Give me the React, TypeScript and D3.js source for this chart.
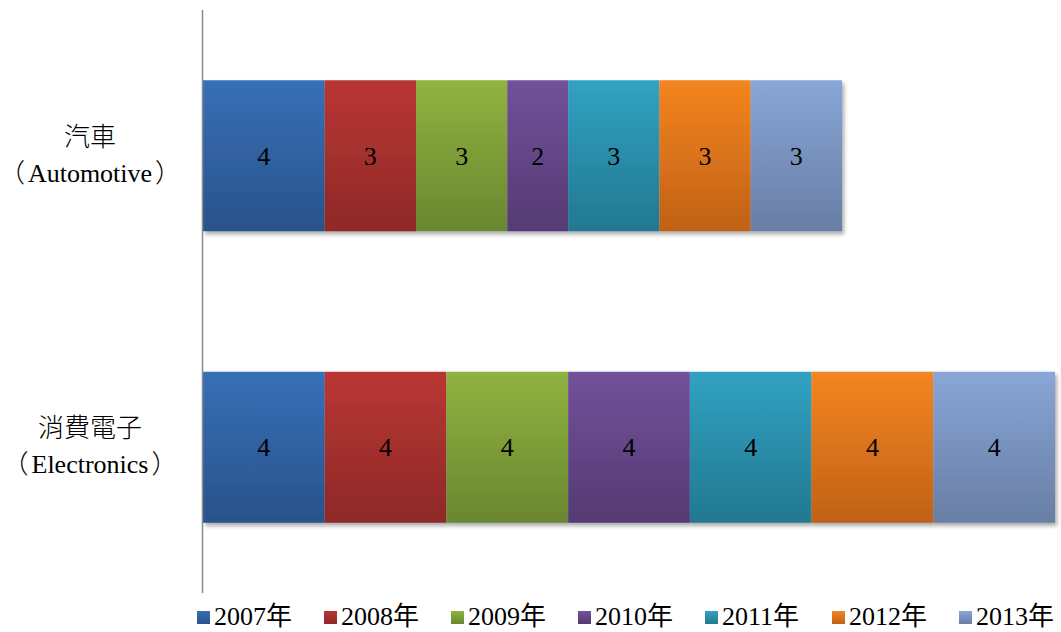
import React from "react";
import * as d3 from "d3";

// Categories (top to bottom) and their two-line labels: [chinese, english]
const categories = ["auto", "elec"];
const categoryNames = ["汽車", "消費電子"];
const categoryEnglish = ["Automotive", "Electronics"];

// Series (years) and the value each category has per year
const years = ["2007年", "2008年", "2009年", "2010年", "2011年", "2012年", "2013年"];
const automotive = [4, 3, 3, 2, 3, 3, 3];
const electronics = [4, 4, 4, 4, 4, 4, 4];

// Fill gradients per series: [top, bottom]
const seriesColors: [string, string][] = [
  ["#3770B8", "#29528A"],
  ["#B93634", "#8E2927"],
  ["#8FB340", "#6A8630"],
  ["#72519B", "#553A73"],
  ["#31A2C2", "#227890"],
  ["#F48520", "#C06116"],
  ["#88A6D7", "#687EA4"],
];

const W = 1061;
const H = 632;
const serif = "'Liberation Serif', 'Times New Roman', 'Noto Sans CJK TC', serif";

export default function App() {
  const values = [automotive, electronics];
  const total = d3.max(values, (v) => d3.sum(v)) as number;

  const x = d3.scaleLinear().domain([0, total]).range([203, 1055]);
  const y = d3
    .scaleBand<string>()
    .domain(categories)
    .range([10, 593])
    .paddingInner(0.482)
    .paddingOuter(0.241);

  const stacks = values.map((row) => {
    let acc = 0;
    return row.map((v, i) => {
      const start = acc;
      acc += v;
      return { v, start, end: acc, i };
    });
  });

  const legendX = d3.scalePoint<string>().domain(years).range([197, 959]);

  return (
    <svg
      width={W}
      height={H}
      style={{ position: "absolute", left: 0, top: 0, background: "#fff" }}
      fontFamily={serif}
    >
      <defs>
        {seriesColors.map(([a, b], i) => (
          <linearGradient key={i} id={`g${i}`} x1="0" y1="0" x2="0" y2="1">
            <stop offset="0" stopColor={a} />
            <stop offset="1" stopColor={b} />
          </linearGradient>
        ))}
        <filter id="shadow" x="-5%" y="-10%" width="115%" height="130%">
          <feDropShadow dx="2" dy="3" stdDeviation="2.2" floodColor="#000" floodOpacity="0.35" />
        </filter>
      </defs>

      {/* stacked bars */}
      {stacks.map((row, r) => {
        const by = y(categories[r]) as number;
        const bh = y.bandwidth();
        return (
          <g key={r}>
            <g filter="url(#shadow)">
              {row.map((s) => (
                <rect
                  key={s.i}
                  x={x(s.start)}
                  y={by}
                  width={x(s.end) - x(s.start)}
                  height={bh}
                  fill={`url(#g${s.i})`}
                />
              ))}
            </g>
            {row.map((s) => (
              <text
                key={s.i}
                x={(x(s.start) + x(s.end)) / 2}
                y={by + bh / 2 + 9}
                textAnchor="middle"
                fontSize={26}
                fill="#000"
              >
                {s.v}
              </text>
            ))}
          </g>
        );
      })}

      {/* category axis */}
      <line x1={202.5} x2={202.5} y1={10} y2={593} stroke="#8c8c8c" strokeWidth={1.5} />
      {categories.map((c, r) => {
        const cy = (y(c) as number) + y.bandwidth() / 2;
        return (
          <g key={c} fontSize={26} fill="#000" textAnchor="middle">
            <text x={90} y={cy - 10} fontWeight={300}>
              {categoryNames[r]}
            </text>
            <text x={90} y={cy + 26}>
              <tspan fontWeight={300}>（</tspan>
              <tspan dx={3}>{categoryEnglish[r]}</tspan>
              <tspan dx={3} fontWeight={300}>）</tspan>
            </text>
          </g>
        );
      })}

      {/* legend */}
      {years.map((yr, i) => {
        const lx = legendX(yr) as number;
        return (
          <g key={yr}>
            <rect x={lx} y={611} width={13} height={13} fill={`url(#g${i})`} />
            <text x={lx + 17} y={625} fontSize={26} fill="#000">
              {yr}
            </text>
          </g>
        );
      })}
    </svg>
  );
}
